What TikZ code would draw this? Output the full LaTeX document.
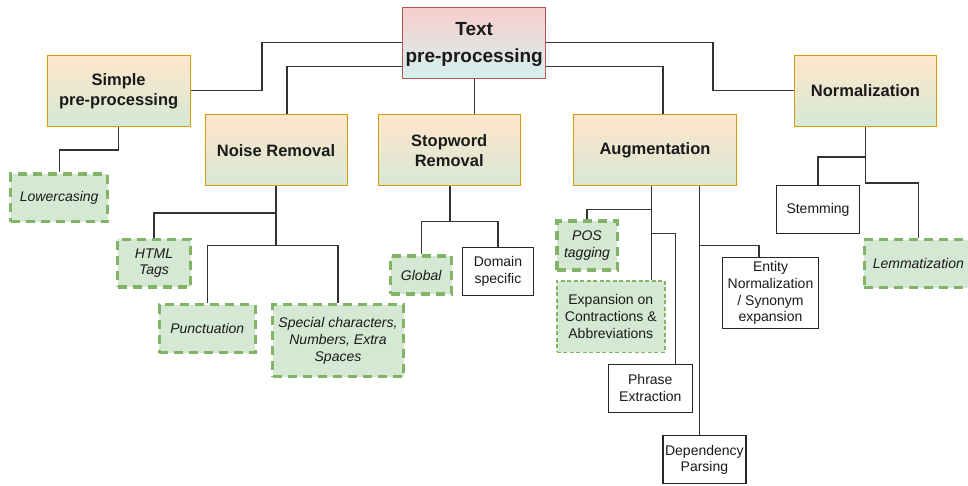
\documentclass[tikz,border=0pt]{standalone}
\usepackage{fontspec}
\setmainfont{Liberation Sans}
\usetikzlibrary{calc}

\definecolor{peach}{HTML}{FFE6CC}
\definecolor{mint}{HTML}{D5E8D4}
\definecolor{orangeB}{HTML}{D79B00}
\definecolor{rosy}{HTML}{F8CECC}
\definecolor{aqua}{HTML}{D4F1F1}
\definecolor{rootB}{HTML}{B85450}
\definecolor{greenF}{HTML}{D5E8D4}
\definecolor{greenB}{HTML}{82B366}
\definecolor{linkC}{HTML}{333333}
\definecolor{txt}{HTML}{1A1A1A}

\begin{document}
\begin{tikzpicture}[x=1pt,y=-1pt,
  box/.style={rectangle, inner sep=2pt, align=center, text=txt},
  rootbox/.style={box, draw=rootB, line width=1pt, top color=rosy, bottom color=aqua,
    font=\bfseries\fontsize{19}{26.5}\selectfont},
  catbox/.style={box, draw=orangeB, line width=1pt, top color=peach, bottom color=mint,
    font=\bfseries\fontsize{16.5}{20}\selectfont},
  greenbox/.style={box, draw=greenB, fill=greenF, line width=3.5pt, dash pattern=on 9pt off 6pt,
    font=\itshape\fontsize{14}{16.7}\selectfont},
  finegreen/.style={box, draw=greenB, fill=greenF, line width=1.5pt, dash pattern=on 4pt off 2.5pt,
    font=\fontsize{14}{16.7}\selectfont},
  plainbox/.style={box, draw=black!85, fill=white, line width=1.2pt,
    font=\fontsize{14}{16.7}\selectfont},
  link/.style={draw=linkC, line width=1.3pt},
]
\useasboundingbox (0,0) rectangle (968,485);

% top level
\node[rootbox, minimum width=143pt, minimum height=71pt] (root) at (474.2,42.5) {};
\node[font=\bfseries\fontsize{19}{26.5}\selectfont, text=txt, align=center] (roottext) at (474.2,44.5) {Text\\pre-processing};

% categories
\node[catbox, minimum width=143pt, minimum height=71pt] (simple) at (118.6,90.8) {Simple\\pre-processing};
\node[catbox, minimum width=142pt, minimum height=71pt] (noise) at (276,150.4) {Noise Removal};
\node[catbox, minimum width=142pt, minimum height=71pt] (stop) at (449.2,150.4) {Stopword\\Removal};
\node[catbox, minimum width=163pt, minimum height=71pt] (aug) at (655,150.4) {Augmentation};
\node[catbox, minimum width=142pt, minimum height=71pt] (norm) at (865.5,90.8) {Normalization};

% leaves
\node[greenbox, minimum width=97pt, minimum height=47.5pt] (lower) at (59.2,197.9) {Lowercasing};
\node[greenbox, minimum width=73pt, minimum height=47.5pt] (html) at (154,263) {HTML\\Tags};
\node[greenbox, minimum width=96pt, minimum height=48pt] (punct) at (207.3,328.7) {Punctuation};
\node[greenbox, minimum width=131pt, minimum height=72pt] (special) at (338,340.7) {Special characters,\\Numbers, Extra\\Spaces};
\node[greenbox, minimum width=61pt, minimum height=38pt] (global) at (421.2,275.2) {Global};
\node[plainbox, minimum width=71pt, minimum height=48pt] (domain) at (498,271.2) {Domain\\specific};
\node[greenbox, minimum width=60.5pt, minimum height=49pt] (pos) at (587,245.5) {POS\\tagging};
\node[finegreen, minimum width=108pt, minimum height=71.5pt] (expansion) at (610.8,316.5) {Expansion on\\Contractions \&\\Abbreviations};
\node[plainbox, minimum width=84pt, minimum height=48pt] (phrase) at (650.3,388.3) {Phrase\\Extraction};
\node[plainbox, minimum width=95.5pt, minimum height=71.5pt] (entity) at (770.5,293.1) {Entity\\Normalization\\/ Synonym\\expansion};
\node[plainbox, minimum width=83pt, minimum height=48pt] (dependency) at (704.4,459.8) {Dependency\\Parsing};
\node[plainbox, minimum width=82.5pt, minimum height=47.5pt] (stemming) at (818,209.5) {Stemming};
\node[greenbox, minimum width=108pt, minimum height=48pt] (lemma) at (918.3,263.5) {Lemmatization};

% connectors from the root
\draw[link] (root.west) -- (262,0 |- root.west) |- (simple.east);
\draw[link] (root.west |- 0,66.6) -| (287,0 |- noise.north);
\draw[link] (root.south) -- (root.south |- stop.north);
\draw[link] (root.east |- 0,66.6) -| (663,0 |- aug.north);
\draw[link] (root.east) -- (713,0 |- root.east) |- (norm.west);

% simple pre-processing
\draw[link] (simple.south) -- ++(0,23.3) -| (lower.north);

% noise removal
\draw[link] (noise.south) -- ++(0,26.5) -| (html.north);
\draw[link] (noise.south) -- ++(0,59) coordinate (nj) -| (punct.north);
\draw[link] (nj) -| (special.north);

% stopword removal
\draw[link, line width=2pt] (450,0 |- stop.south) -- (450,221.7) coordinate (sj);
\draw[link] (sj) -| (global.north);
\draw[link] (sj) -| (domain.north);

% augmentation
\draw[link] (651.7,0 |- aug.south) -- (651.7,209.3) coordinate (a1) -- (651.7,0 |- expansion.north);
\draw[link] (a1) -| (pos.north);
\draw[link] (651.7,233.3) -| (675.7,0 |- phrase.north);
\draw[link] (699.3,0 |- aug.south) -- (699.3,0 |- dependency.north);
\draw[link] (699.3,245.3) -| (759,0 |- entity.north);

% normalization
\draw[link] (norm.south) -- ++(0,30.3) -| (stemming.north);
\draw[link] (norm.south) -- ++(0,56.3) -| (918.3,0 |- lemma.north);
\end{tikzpicture}
\end{document}
